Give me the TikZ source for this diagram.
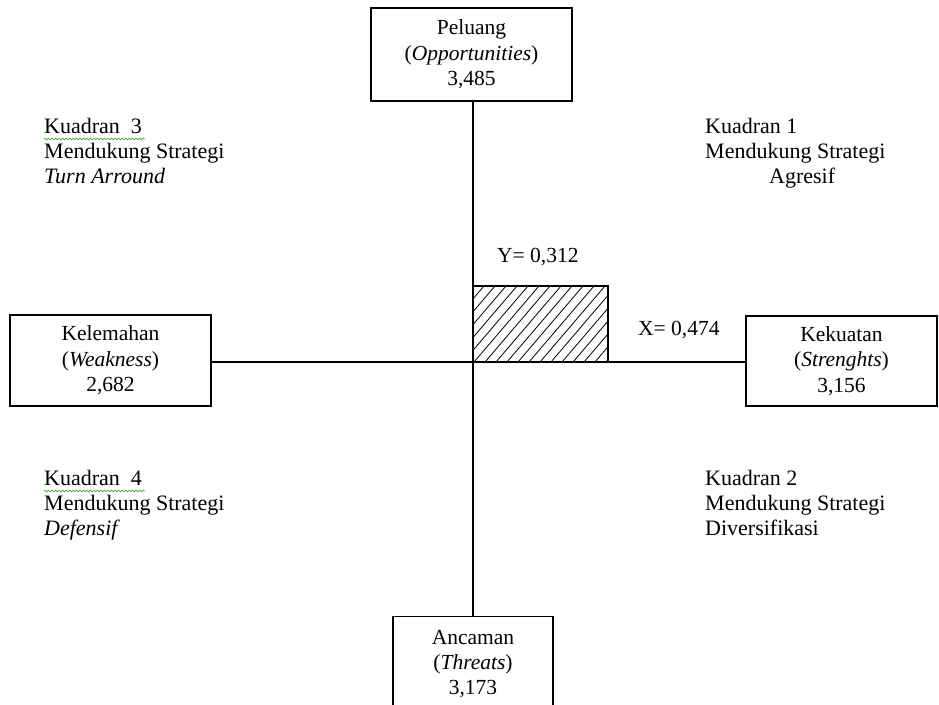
\documentclass[tikz,border=0pt]{standalone}
\usepackage{fontspec}
\setmainfont{Liberation Serif}
\usetikzlibrary{decorations.pathmorphing}
\definecolor{squig}{RGB}{80,170,60}
\tikzset{
  box/.style={draw, line width=1.2pt, inner sep=0pt, align=center, font=\fontsize{21.5}{25.5}\selectfont},
  axis/.style={line width=1.2pt},
  quad/.style={anchor=north west, inner sep=0pt, align=left, font=\fontsize{22}{25}\selectfont},
  val/.style={inner sep=0pt, font=\fontsize{21.5}{25}\selectfont},
  squiggle/.style={draw=squig, line width=0.7pt, decorate, decoration={snake, amplitude=0.9pt, segment length=3.5pt}}
}
\begin{document}
\begin{tikzpicture}[x=1pt, y=-1pt]
\useasboundingbox (0,0) rectangle (939,704);
\clip (0,0) rectangle (939,704);
\fill[white] (0,0) rectangle (939,704);
% boxes
\node[box, minimum width=201pt, minimum height=93pt] (top) at (471.5,54.5) {Peluang\\(\textit{Opportunities})\\3,485};
\node[box, minimum width=201pt, minimum height=91pt] (left) at (110.5,360.5) {Kelemahan\\(\textit{Weakness})\\2,682};
\node[box, minimum width=191pt, minimum height=90pt] (right) at (841.5,361) {Kekuatan\\(\textit{Strenghts})\\3,156};
\node[box, minimum width=160pt, minimum height=110pt, anchor=north] (bottom) at (473,616) {};
\node[val, anchor=base] (b1) at (473,644) {Ancaman};
\node[val, anchor=base] (b2) at (473,669) {(\textit{Threats})};
\node[val, anchor=base] (b3) at (473,694) {3,173};
% axes
\coordinate (c) at (473,362);
\draw[axis] (top.south -| c) -- (bottom.north -| c);
\draw[axis] (left.east |- c) -- (right.west |- c);
% hatched rectangle
\coordinate (h1) at (473,286);
\coordinate (h2) at (608,362);
\begin{scope}
\clip (h1) rectangle (h2);
\foreach \i in {0,11,...,220} {
  \draw[line width=0.8pt] (473+\i-65,362) -- (473+\i,286);
}
\end{scope}
\draw[line width=1.2pt] (h1) rectangle (h2);
% values
\node[val, anchor=base west] (yv) at (497,262) {Y= 0,312};
\node[val, anchor=base west] (xv) at (638,335) {X= 0,474};
% quadrants
\node[quad] (q3) at (44,118) {Kuadran\ \ 3\\Mendukung Strategi\\\textit{Turn Arround}};
\node[quad] (q1) at (705,118) {Kuadran 1\\Mendukung Strategi\\\hspace*{64pt}Agresif};
\node[quad] (q4) at (44,470) {Kuadran\ \ 4\\Mendukung Strategi\\\textit{Defensif}};
\node[quad] (q2) at (705,470) {Kuadran 2\\Mendukung Strategi\\Diversifikasi};
\coordinate (s3a) at (44,139); \coordinate (s3b) at (145,139);
\coordinate (s4a) at (44,491); \coordinate (s4b) at (145,491);
\draw[squiggle] (s3a) -- (s3b);
\draw[squiggle] (s4a) -- (s4b);
\end{tikzpicture}
\end{document}
